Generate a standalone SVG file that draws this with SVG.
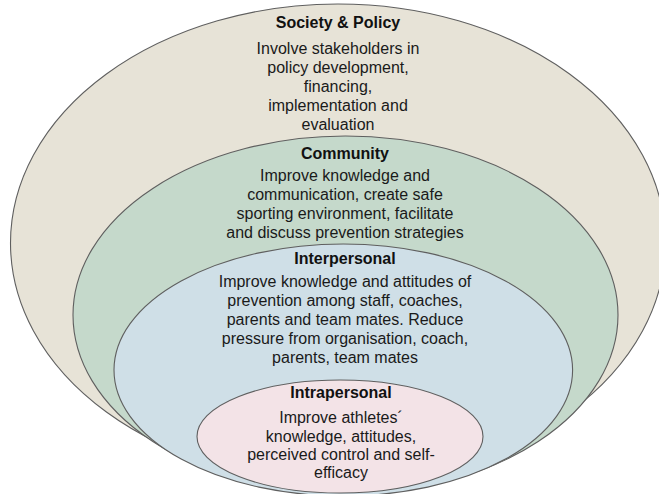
<svg xmlns="http://www.w3.org/2000/svg" width="659" height="494" viewBox="0 0 659 494">
<style>
.ring{stroke:#5f5f5f;stroke-width:1.1}
.t{font-family:"Liberation Sans",Arial,sans-serif;font-size:16px;font-weight:bold;fill:#111;text-anchor:middle}
.b{font-family:"Liberation Sans",Arial,sans-serif;font-size:16px;fill:#1a1a1a;text-anchor:middle}
</style>
<rect width="659" height="494" fill="#ffffff"/>
<g id="society">
<ellipse class="ring" cx="338" cy="243" rx="327.5" ry="239" fill="#e7e3d7"/>
<text class="t" x="338" y="28">Society &amp; Policy</text>
<text class="b" x="338" y="54">Involve stakeholders in</text>
<text class="b" x="338" y="73">policy development,</text>
<text class="b" x="338" y="92">financing,</text>
<text class="b" x="338" y="111">implementation and</text>
<text class="b" x="338" y="130">evaluation</text>
</g>
<g id="community">
<ellipse class="ring" cx="345.5" cy="315" rx="272.5" ry="179" fill="#c5d9cb"/>
<text class="t" x="345" y="159">Community</text>
<text class="b" x="345" y="181">Improve knowledge and</text>
<text class="b" x="345" y="200">communication, create safe</text>
<text class="b" x="345" y="219">sporting environment, facilitate</text>
<text class="b" x="345" y="238">and discuss prevention strategies</text>
</g>
<g id="interpersonal">
<ellipse class="ring" cx="343.3" cy="370" rx="229.3" ry="126" fill="#cfdfe7"/>
<text class="t" x="345" y="264">Interpersonal</text>
<text class="b" x="345" y="287">Improve knowledge and attitudes of</text>
<text class="b" x="345" y="306">prevention among staff, coaches,</text>
<text class="b" x="345" y="325">parents and team mates. Reduce</text>
<text class="b" x="345" y="344">pressure from organisation, coach,</text>
<text class="b" x="345" y="363">parents, team mates</text>
</g>
<g id="intrapersonal">
<ellipse class="ring" cx="340" cy="436.5" rx="143" ry="56.5" fill="#f3e3e7"/>
<text class="t" x="341" y="398">Intrapersonal</text>
<text class="b" x="341" y="423">Improve athletes´</text>
<text class="b" x="341" y="442">knowledge, attitudes,</text>
<text class="b" x="341" y="460">perceived control and self-</text>
<text class="b" x="341" y="478">efficacy</text>
</g>
<g id="connectors"/>
</svg>
